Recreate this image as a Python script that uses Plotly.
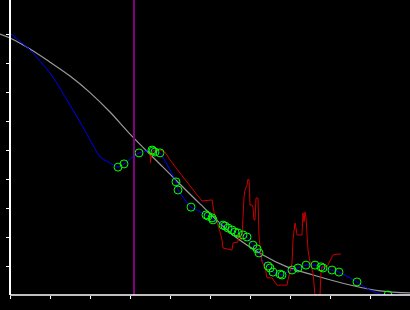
import plotly.graph_objects as go

# Smooth gray reference curve
gray_x = [-0.25, 0.0, 0.5, 1.0, 1.5, 2.0, 2.5, 3.0, 3.825, 4.75, 5.575, 6.325, 6.925, 7.575, 8.5, 9.25, 10.0]
gray_y = [9.0, 8.86, 8.48, 8.03, 7.55, 6.98, 6.31, 5.55, 4.41, 3.14, 2.07, 1.38, 0.97, 0.69, 0.345, 0.14, 0.07]

# Blue fitted line
blue_x = [0.025, 0.5, 1.0, 1.175, 1.425, 1.825, 2.0, 2.25, 2.5, 2.7, 2.85, 3.075, 3.225,
          3.55, 3.575, 3.625, 3.75, 4.0, 4.15, 4.2, 4.525, 4.675, 4.9, 4.95, 5.05, 5.075,
          5.325, 5.375, 5.45, 5.55, 5.625, 5.7, 5.825, 5.925, 6.075, 6.175, 6.225, 6.3,
          6.45, 6.5, 6.575, 6.75, 6.8, 6.925, 7.05, 7.2, 7.4, 7.625, 7.775, 7.825, 8.05,
          8.225, 8.675, 9.0, 9.25, 9.45, 10.0]
blue_y = [9.0, 8.45, 7.66, 7.29, 6.72, 5.79, 5.35, 4.76, 4.55, 4.41, 4.52, 4.76, 4.90,
          5.0, 4.97, 4.93, 4.90, 4.31, 3.90, 3.62, 3.03, 2.93, 2.76, 2.72, 2.66, 2.59,
          2.41, 2.38, 2.31, 2.24, 2.17, 2.14, 2.07, 2.0, 1.72, 1.59, 1.45, 1.21,
          1.0, 0.93, 0.79, 0.72, 0.69, 0.79, 0.86, 0.93, 1.03, 1.03, 0.97, 0.93, 0.86,
          0.79, 0.45, 0.17, 0.03, 0.0, 0.0]

# Green observation points
pts_x = [2.7, 2.85, 3.225, 3.55, 3.575, 3.625, 3.75, 4.15, 4.2, 4.525, 4.9, 4.95, 5.05,
         5.075, 5.325, 5.375, 5.45, 5.55, 5.625, 5.7, 5.825, 5.925, 6.075, 6.175, 6.225,
         6.45, 6.5, 6.575, 6.75, 6.8, 7.05, 7.2, 7.4, 7.625, 7.775, 7.825, 8.05, 8.225,
         8.675, 9.45]
pts_y = [4.41, 4.52, 4.90, 5.0, 4.97, 4.93, 4.90, 3.90, 3.62, 3.03, 2.76, 2.72, 2.66,
         2.59, 2.41, 2.38, 2.31, 2.24, 2.17, 2.14, 2.07, 2.0, 1.72, 1.59, 1.45,
         1.0, 0.93, 0.79, 0.72, 0.69, 0.86, 0.93, 1.03, 1.03, 0.97, 0.93, 0.86, 0.79,
         0.45, 0.0]

# Red raw series
red_x = [3.45, 3.5, 3.5125, 3.525, 3.575, 3.75, 3.875, 4.0, 4.325, 4.575, 4.8, 5.05, 5.075,
         5.1, 5.25, 5.3, 5.325, 5.45, 5.55, 5.575, 5.7, 5.725, 5.775, 5.8, 5.825, 5.85,
         5.875, 5.925, 5.95, 5.975, 5.9875, 6.0, 6.05, 6.075, 6.1, 6.125, 6.15, 6.2,
         6.2125, 6.225, 6.3, 6.375, 6.425, 6.55, 6.675, 6.925, 6.95, 7.05, 7.075, 7.125,
         7.15, 7.175, 7.3, 7.325, 7.35, 7.375, 7.4, 7.425, 7.45, 7.5, 7.575, 7.625, 7.75,
         7.775, 7.8, 7.925, 8.05, 8.075, 8.175, 8.275]
red_y = [4.93, 4.93, 4.55, 4.76, 4.97, 5.0, 4.93, 4.66, 4.07, 3.62, 3.24, 3.28, 2.97,
         2.86, 2.17, 1.90, 1.62, 1.59, 1.55, 1.79, 1.83, 2.14, 1.90, 1.97, 2.76, 3.38,
         3.62, 3.79, 4.0, 3.97, 3.62, 3.10, 3.10, 3.03, 2.59, 2.59, 3.34, 3.34,
         2.69, 2.0, 1.14, 0.97, 0.59, 0.59, 0.34, 0.34, 0.52, 1.10, 1.90, 2.48,
         2.31, 2.07, 2.07, 2.83, 2.52, 2.86, 2.66, 2.17, 1.55, 1.14, 0.76, 0.0, 0.0,
         0.76, 0.97, 0.97, 1.28, 1.38, 1.41, 1.41]

marker_x = 3.1
x_ticks = [0, 1, 2, 3, 4, 5, 6, 7, 8, 9]
y_ticks = [1, 2, 3, 4, 5, 6, 7, 8, 9]

fig = go.Figure()
fig.add_trace(go.Scatter(x=gray_x, y=gray_y, mode="lines", line=dict(color="#9a9a9a", width=1.2, shape="spline"),
                         hoverinfo="skip"))
fig.add_trace(go.Scatter(x=blue_x, y=blue_y, mode="lines", line=dict(color="#0000ff", width=1, shape="spline", smoothing=0.4),
                         hoverinfo="skip"))
fig.add_trace(go.Scatter(x=red_x, y=red_y, mode="lines", line=dict(color="#cc0000", width=1),
                         hoverinfo="skip"))
fig.add_trace(go.Scatter(x=pts_x, y=pts_y, mode="markers",
                         marker=dict(symbol="circle-open", size=8, color="#00ff00", line=dict(width=1, color="#00ff00")),
                         hoverinfo="skip"))

fig.add_shape(type="line", xref="x", yref="paper", x0=marker_x, x1=marker_x, y0=0, y1=1,
              line=dict(color="#800080", width=2))
fig.add_shape(type="line", xref="x", yref="paper", x0=0, x1=10, y0=0, y1=0,
              line=dict(color="white", width=1.5))

fig.update_layout(
    width=410, height=310,
    margin=dict(l=0, r=0, t=0, b=15),
    paper_bgcolor="black", plot_bgcolor="black",
    showlegend=False,
    xaxis=dict(range=[-0.25, 10], showgrid=False, zeroline=False, showline=False,
               ticks="outside", ticklen=3, tickwidth=1, tickcolor="white",
               tickvals=x_ticks, showticklabels=False),
    yaxis=dict(range=[0, 295 / 29], showgrid=False, zeroline=False, showline=True,
               linecolor="white", linewidth=1.5, anchor="free", position=10 / 410,
               ticks="outside", ticklen=3, tickwidth=1, tickcolor="white",
               tickvals=y_ticks, showticklabels=False),
)

fig.write_html("out.html")
